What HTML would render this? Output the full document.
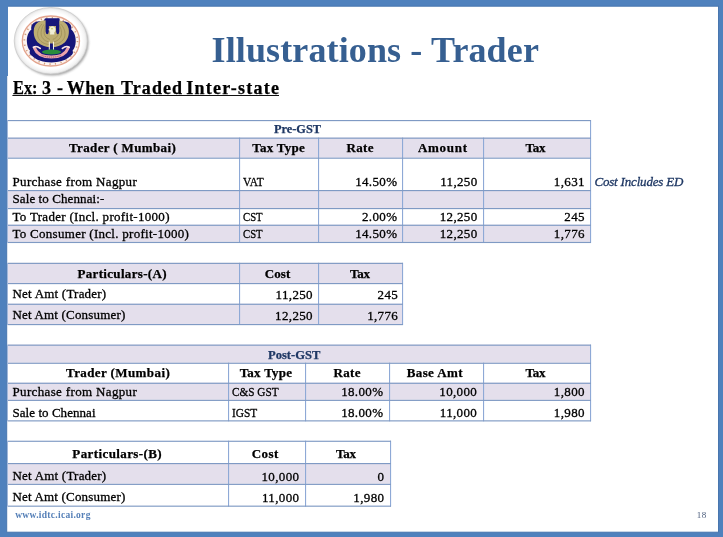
<!DOCTYPE html><html><head><meta charset='utf-8'><title>Illustrations - Trader</title><style>
html,body{margin:0;padding:0}body{width:723px;height:537px;background:#4f81bd;position:relative;overflow:hidden;font-family:'Liberation Serif', serif}
#s{position:absolute;left:8px;top:7px;width:710px;height:525px;background:#fff}
.r{position:absolute}.t{position:absolute;white-space:pre;line-height:20px;height:20px}
.b{font-weight:700}.k{-webkit-text-stroke:0.25px currentColor}.i{font-style:italic}.n{-webkit-text-stroke:0.3px currentColor}
</style></head><body><svg class='r' style='left:0;top:0' width='723' height='537'><rect x='6.7' y='6.2' width='711.8' height='526' fill='#fff' stroke='#4876ae' stroke-width='1'/><rect x='0' y='0' width='8' height='76' fill='#4f81bd'/></svg>
<svg class='r' style='left:0;top:0' width='723' height='537'>
<rect x='8' y='137.60' width='582' height='20.00' fill='#e4dfec'/>
<rect x='8' y='190.00' width='582' height='18.00' fill='#e4dfec'/>
<rect x='8' y='224.70' width='582' height='17.20' fill='#e4dfec'/>
<rect x='8' y='262.80' width='394' height='20.20' fill='#e4dfec'/>
<rect x='8' y='303.70' width='394' height='20.30' fill='#e4dfec'/>
<rect x='8' y='344.60' width='582' height='18.10' fill='#e4dfec'/>
<rect x='8' y='382.70' width='582' height='17.10' fill='#e4dfec'/>
<rect x='8' y='463.00' width='382' height='20.80' fill='#e4dfec'/>
<rect x='12.4' y='95.00' width='266.6' height='1.00' fill='#111'/>
<rect x='7' y='120.00' width='1' height='122.90' fill='#9fb7dc'/>
<rect x='239' y='137.60' width='1.1' height='105.30' fill='#8ea9d6'/>
<rect x='318' y='137.60' width='1.1' height='105.30' fill='#8ea9d6'/>
<rect x='402' y='137.60' width='1.1' height='105.30' fill='#8ea9d6'/>
<rect x='483' y='137.60' width='1.1' height='105.30' fill='#8ea9d6'/>
<rect x='590' y='120.00' width='1.1' height='122.90' fill='#8ea9d6'/>
<rect x='7' y='262.80' width='1' height='62.20' fill='#9fb7dc'/>
<rect x='239' y='262.80' width='1.1' height='62.20' fill='#8ea9d6'/>
<rect x='318' y='262.80' width='1.1' height='62.20' fill='#8ea9d6'/>
<rect x='402' y='262.80' width='1.1' height='62.20' fill='#8ea9d6'/>
<rect x='7' y='344.60' width='1' height='76.70' fill='#9fb7dc'/>
<rect x='228' y='362.70' width='1.1' height='58.60' fill='#8ea9d6'/>
<rect x='305' y='362.70' width='1.1' height='58.60' fill='#8ea9d6'/>
<rect x='389' y='362.70' width='1.1' height='58.60' fill='#8ea9d6'/>
<rect x='483' y='362.70' width='1.1' height='58.60' fill='#8ea9d6'/>
<rect x='590' y='344.60' width='1.1' height='76.70' fill='#8ea9d6'/>
<rect x='7' y='440.70' width='1' height='65.90' fill='#9fb7dc'/>
<rect x='228' y='440.70' width='1.1' height='65.90' fill='#8ea9d6'/>
<rect x='305' y='440.70' width='1.1' height='65.90' fill='#8ea9d6'/>
<rect x='390' y='440.70' width='1.1' height='65.90' fill='#8ea9d6'/>
<rect x='8' y='120.00' width='583' height='1.15' fill='#7f9ac4'/>
<rect x='8' y='137.60' width='583' height='1.15' fill='#7f9ac4'/>
<rect x='8' y='157.60' width='583' height='1.15' fill='#7f9ac4'/>
<rect x='8' y='190.00' width='583' height='1.15' fill='#7f9ac4'/>
<rect x='8' y='208.00' width='583' height='1.15' fill='#7f9ac4'/>
<rect x='8' y='224.70' width='583' height='1.15' fill='#7f9ac4'/>
<rect x='8' y='241.90' width='583' height='1.15' fill='#7f9ac4'/>
<rect x='8' y='262.80' width='395' height='1.15' fill='#7f9ac4'/>
<rect x='8' y='283.00' width='395' height='1.15' fill='#7f9ac4'/>
<rect x='8' y='303.70' width='395' height='1.15' fill='#7f9ac4'/>
<rect x='8' y='324.00' width='395' height='1.15' fill='#7f9ac4'/>
<rect x='8' y='344.60' width='583' height='1.15' fill='#7f9ac4'/>
<rect x='8' y='362.70' width='583' height='1.15' fill='#7f9ac4'/>
<rect x='8' y='382.70' width='583' height='1.15' fill='#7f9ac4'/>
<rect x='8' y='399.80' width='583' height='1.15' fill='#7f9ac4'/>
<rect x='8' y='420.30' width='583' height='1.15' fill='#7f9ac4'/>
<rect x='8' y='440.70' width='383' height='1.15' fill='#7f9ac4'/>
<rect x='8' y='463.00' width='383' height='1.15' fill='#7f9ac4'/>
<rect x='8' y='483.80' width='383' height='1.15' fill='#7f9ac4'/>
<rect x='8' y='505.60' width='383' height='1.15' fill='#7f9ac4'/>
</svg>
<svg class="r" style="left:0;top:0" width="110" height="90" viewBox="0 0 110 90">
<defs>
<filter id="sh" x="-20%" y="-20%" width="150%" height="150%"><feGaussianBlur stdDeviation="1.2"/></filter>
<filter id="bl" x="-10%" y="-10%" width="120%" height="120%"><feGaussianBlur stdDeviation="0.5"/></filter>
<radialGradient id="og" cx="0.5" cy="0.5" r="0.5"><stop offset="0.84" stop-color="#ffffff"/><stop offset="0.94" stop-color="#f3f3f3"/><stop offset="1" stop-color="#dcdcdc"/></radialGradient>
</defs>
<ellipse cx="52.2" cy="42.4" rx="36.4" ry="33.1" fill="#6a6a6a" opacity="0.6" filter="url(#sh)"/>
<ellipse cx="50.8" cy="40.8" rx="36.6" ry="33.3" fill="url(#og)" stroke="#c9c9c9" stroke-width="0.7"/>
<g filter="url(#bl)">
<ellipse cx="50.9" cy="41" rx="28.6" ry="25" fill="#fdf3ef" stroke="#e3a48e" stroke-width="1.3"/>
<ellipse cx="50.9" cy="41" rx="26.6" ry="23.2" fill="none" stroke="#c98f68" stroke-width="1.7" stroke-dasharray="1.2 4.4" opacity="0.85"/>
<path fill="#15157a" d="M45 18.5 L59.5 18.5 L59.7 22 C62.5 20.8 67.5 21.2 70 24 C71.6 26 71.6 28.4 71.2 29.6 C74.4 32 76 37 75.7 42 C75.4 46 74.4 48.8 72.6 50.6 C73.6 52.8 72.6 55.2 70.4 56 C66.4 60.4 58.8 62.4 51.3 62.4 C43.8 62.4 36.2 60.4 32.2 56 C30 55.2 29 52.8 30 50.6 C28.2 48.8 27.2 46 26.9 42 C26.6 37 28.2 32 31.4 29.6 C31 28.4 31 26 32.6 24 C35.1 21.2 40.1 20.8 42.9 22 Z"/>
<!-- wings -->
<path fill="#bdad72" d="M51.3 47.2 C47 47.4 41.5 45.6 37.6 42.2 C34.4 39 33.1 33.6 34 28.6 C34.8 24.6 37.8 21.5 41.8 20.7 L45.6 20.2 L57 20.2 L60.8 20.7 C64.8 21.5 67.8 24.6 68.6 28.6 C69.5 33.6 68.2 39 65 42.2 C61.1 45.6 55.6 47.4 51.3 47.2 Z"/>
<g fill="none" stroke="#8c7c48" stroke-width="0.7" opacity="0.7">
<path d="M49.500 44.600 C44.600 44.400 39.600 41.600 38 37 C36.800 32.600 38.400 27.600 42 24"/>
<path d="M49.600 42 C45.600 41.600 42 38.800 41.200 35 C40.600 31.400 41.800 27.400 44 24.400"/>
<path d="M49.800 39.400 C47 38.600 44.600 36.400 44.200 33.400 C44 30.600 44.400 27.600 45.200 25.400"/>
<path d="M53.100 44.600 C58 44.400 63 41.600 64.600 37 C65.800 32.600 64.200 27.600 60.600 24"/>
<path d="M53 42 C57 41.600 60.600 38.800 61.400 35 C62 31.400 60.800 27.400 58.600 24.400"/>
<path d="M52.800 39.400 C55.600 38.600 58 36.400 58.400 33.400 C58.600 30.600 58.200 27.600 57.400 25.400"/>
</g>
<!-- navy tab with prongs -->
<path fill="#15157a" d="M45.600 18.500 H59.200 L59.300 31.600 Q59.100 34.200 57.700 34.200 Q56.300 34.200 56.100 31.600 L56 26 H48.900 L48.800 31.600 Q48.600 34.200 47.200 34.200 Q45.800 34.200 45.600 31.600 Z"/>
<!-- head -->
<path fill="#efedd6" d="M48.300 30 L49.600 28.400 C49.800 27 51 26.200 52.400 26.200 C54.200 26.200 55.500 27.600 55.500 29.400 C55.500 30.800 54.900 31.800 54.200 32.400 L54.400 34.600 L50 34.600 L50.200 32 C49.800 31.600 49.600 31 49.700 30.500 Z"/>
<circle cx="52" cy="28.800" r="0.800" fill="#b9c940"/>
<!-- legs -->
<path fill="#15157a" d="M50 43.400 L52.800 43.400 L53 49.800 L49.800 49.800 Z"/>
<path fill="none" stroke="#f4f1e4" stroke-width="1" d="M49.300 41.600 L49.300 49.800 M53.500 41.600 L53.500 49.800"/>
<ellipse cx="51.500" cy="51.900" rx="9.500" ry="2.500" fill="#2c8c3c"/>
<path fill="none" stroke="#eca3ab" stroke-width="3.100" stroke-linecap="round" d="M34.600 48.200 C37 54.600 44 57 51.300 57 C58.600 57 65.600 54.600 68 48.200"/>
<path fill="none" stroke="#fde9e6" stroke-width="1.700" stroke-linecap="round" d="M33.400 47.300 C35 46.200 38 46.600 40.200 48.400 M69.200 47.300 C67.600 46.200 64.600 46.600 62.400 48.400"/>
<path fill="none" stroke="#a8586a" stroke-width="0.900" stroke-dasharray="1.100 0.800" d="M41.600 55.400 C44.600 56.600 47.800 57.100 51.300 57.100 C54.800 57.100 58 56.600 61 55.400"/>
</g>
</svg>

<div class='t b' style='left:211.50px;top:27.00px;font-size:36px;line-height:47px;height:47px;letter-spacing:0.128px;word-spacing:0px;color:#365f91;'>Illustrations - Trader</div>
<div class='t b k' style='left:12.50px;top:77.00px;font-size:18px;line-height:23px;height:23px;letter-spacing:0.000px;word-spacing:0px;color:#000;transform:scaleX(0.9074);transform-origin:0 0;'>Ex:</div>
<div class='t b k' style='left:42.00px;top:77.00px;font-size:18px;line-height:23px;height:23px;letter-spacing:0.000px;word-spacing:0px;color:#000;'>3</div>
<div class='t b k' style='left:57.10px;top:77.00px;font-size:18px;line-height:23px;height:23px;letter-spacing:0.000px;word-spacing:0px;color:#000;'>-</div>
<div class='t b k' style='left:66.80px;top:77.00px;font-size:18px;line-height:23px;height:23px;letter-spacing:0.530px;word-spacing:0px;color:#000;'>When</div>
<div class='t b k' style='left:121.00px;top:77.00px;font-size:18px;line-height:23px;height:23px;letter-spacing:1.086px;word-spacing:0px;color:#000;'>Traded</div>
<div class='t b k' style='left:186.30px;top:77.00px;font-size:18px;line-height:23px;height:23px;letter-spacing:1.230px;word-spacing:0px;color:#000;'>Inter-state</div>
<div class='t b k' style='left:274.00px;top:119.00px;font-size:13px;line-height:20px;height:20px;letter-spacing:0.000px;word-spacing:0px;color:#1f3864;transform:scaleX(0.9478);transform-origin:0 0;'>Pre-GST</div>
<div class='t b k' style='left:69.00px;top:138.00px;font-size:13px;line-height:20px;height:20px;letter-spacing:0.362px;word-spacing:0px;color:#000;'>Trader ( Mumbai)</div>
<div class='t b k' style='left:252.25px;top:138.00px;font-size:13px;line-height:20px;height:20px;letter-spacing:0.252px;word-spacing:0px;color:#000;'>Tax Type</div>
<div class='t b k' style='left:346.41px;top:138.00px;font-size:13px;line-height:20px;height:20px;letter-spacing:0.400px;word-spacing:0px;color:#000;'>Rate</div>
<div class='t b k' style='left:418.00px;top:138.00px;font-size:13px;line-height:20px;height:20px;letter-spacing:0.699px;word-spacing:0px;color:#000;'>Amount</div>
<div class='t b k' style='left:525.50px;top:138.00px;font-size:13px;line-height:20px;height:20px;letter-spacing:-0.239px;word-spacing:0px;color:#000;'>Tax</div>
<div class='t n' style='left:12.50px;top:172.00px;font-size:13px;line-height:20px;height:20px;letter-spacing:0.348px;word-spacing:0px;color:#000;'>Purchase from Nagpur</div>
<div class='t n' style='left:243.00px;top:172.00px;font-size:13px;line-height:20px;height:20px;letter-spacing:0.000px;word-spacing:0px;color:#000;transform:scaleX(0.8729);transform-origin:0 0;'>VAT</div>
<div class='t n' style='left:355.17px;top:172.00px;font-size:13px;line-height:20px;height:20px;letter-spacing:0.350px;word-spacing:0px;color:#000;'>14.50%</div>
<div class='t n' style='left:440.18px;top:172.00px;font-size:13px;line-height:20px;height:20px;letter-spacing:0.350px;word-spacing:0px;color:#000;'>11,250</div>
<div class='t n' style='left:553.85px;top:172.00px;font-size:13px;line-height:20px;height:20px;letter-spacing:0.350px;word-spacing:0px;color:#000;'>1,631</div>
<div class='t n' style='left:12.50px;top:189.00px;font-size:13px;line-height:20px;height:20px;letter-spacing:0.096px;word-spacing:0px;color:#000;'>Sale to Chennai:-</div>
<div class='t n' style='left:12.50px;top:207.00px;font-size:13px;line-height:20px;height:20px;letter-spacing:0.300px;word-spacing:0px;color:#000;'>To Trader (Incl. profit-1000)</div>
<div class='t n' style='left:243.00px;top:207.00px;font-size:13px;line-height:20px;height:20px;letter-spacing:0.000px;word-spacing:0px;color:#000;transform:scaleX(0.8221);transform-origin:0 0;'>CST</div>
<div class='t n' style='left:362.02px;top:207.00px;font-size:13px;line-height:20px;height:20px;letter-spacing:0.350px;word-spacing:0px;color:#000;'>2.00%</div>
<div class='t n' style='left:439.70px;top:207.00px;font-size:13px;line-height:20px;height:20px;letter-spacing:0.350px;word-spacing:0px;color:#000;'>12,250</div>
<div class='t n' style='left:564.30px;top:207.00px;font-size:13px;line-height:20px;height:20px;letter-spacing:0.350px;word-spacing:0px;color:#000;'>245</div>
<div class='t n' style='left:12.50px;top:224.00px;font-size:13px;line-height:20px;height:20px;letter-spacing:0.278px;word-spacing:0px;color:#000;'>To Consumer (Incl. profit-1000)</div>
<div class='t n' style='left:243.00px;top:224.00px;font-size:13px;line-height:20px;height:20px;letter-spacing:0.000px;word-spacing:0px;color:#000;transform:scaleX(0.8221);transform-origin:0 0;'>CST</div>
<div class='t n' style='left:355.17px;top:224.00px;font-size:13px;line-height:20px;height:20px;letter-spacing:0.350px;word-spacing:0px;color:#000;'>14.50%</div>
<div class='t n' style='left:439.70px;top:224.00px;font-size:13px;line-height:20px;height:20px;letter-spacing:0.350px;word-spacing:0px;color:#000;'>12,250</div>
<div class='t n' style='left:553.85px;top:224.00px;font-size:13px;line-height:20px;height:20px;letter-spacing:0.350px;word-spacing:0px;color:#000;'>1,776</div>
<div class='t n i' style='left:594.40px;top:172.00px;font-size:13px;line-height:20px;height:20px;letter-spacing:-0.181px;word-spacing:0px;color:#1f3864;'>Cost Includes ED</div>
<div class='t b k' style='left:77.50px;top:264.00px;font-size:13px;line-height:20px;height:20px;letter-spacing:0.324px;word-spacing:0px;color:#000;'>Particulars-(A)</div>
<div class='t b k' style='left:264.75px;top:264.00px;font-size:13px;line-height:20px;height:20px;letter-spacing:0.075px;word-spacing:0px;color:#000;'>Cost</div>
<div class='t b k' style='left:350.00px;top:264.00px;font-size:13px;line-height:20px;height:20px;letter-spacing:-0.239px;word-spacing:0px;color:#000;'>Tax</div>
<div class='t n' style='left:12.50px;top:284.00px;font-size:13px;line-height:20px;height:20px;letter-spacing:0.212px;word-spacing:0px;color:#000;'>Net Amt (Trader)</div>
<div class='t n' style='left:275.58px;top:285.00px;font-size:13px;line-height:20px;height:20px;letter-spacing:0.350px;word-spacing:0px;color:#000;'>11,250</div>
<div class='t n' style='left:377.60px;top:285.00px;font-size:13px;line-height:20px;height:20px;letter-spacing:0.350px;word-spacing:0px;color:#000;'>245</div>
<div class='t n' style='left:12.50px;top:305.00px;font-size:13px;line-height:20px;height:20px;letter-spacing:0.178px;word-spacing:0px;color:#000;'>Net Amt (Consumer)</div>
<div class='t n' style='left:275.10px;top:306.00px;font-size:13px;line-height:20px;height:20px;letter-spacing:0.350px;word-spacing:0px;color:#000;'>12,250</div>
<div class='t n' style='left:367.15px;top:306.00px;font-size:13px;line-height:20px;height:20px;letter-spacing:0.350px;word-spacing:0px;color:#000;'>1,776</div>
<div class='t b k' style='left:268.45px;top:345.00px;font-size:13px;line-height:20px;height:20px;letter-spacing:0.000px;word-spacing:0px;color:#1f3864;transform:scaleX(0.9655);transform-origin:0 0;'>Post-GST</div>
<div class='t b k' style='left:66.04px;top:363.00px;font-size:13px;line-height:20px;height:20px;letter-spacing:0.400px;word-spacing:0px;color:#000;'>Trader (Mumbai)</div>
<div class='t b k' style='left:239.65px;top:363.00px;font-size:13px;line-height:20px;height:20px;letter-spacing:0.252px;word-spacing:0px;color:#000;'>Tax Type</div>
<div class='t b k' style='left:333.41px;top:363.00px;font-size:13px;line-height:20px;height:20px;letter-spacing:0.400px;word-spacing:0px;color:#000;'>Rate</div>
<div class='t b k' style='left:406.70px;top:363.00px;font-size:13px;line-height:20px;height:20px;letter-spacing:0.400px;word-spacing:0px;color:#000;'>Base Amt</div>
<div class='t b k' style='left:525.50px;top:363.00px;font-size:13px;line-height:20px;height:20px;letter-spacing:-0.239px;word-spacing:0px;color:#000;'>Tax</div>
<div class='t n' style='left:12.50px;top:382.00px;font-size:13px;line-height:20px;height:20px;letter-spacing:0.348px;word-spacing:0px;color:#000;'>Purchase from Nagpur</div>
<div class='t n' style='left:232.00px;top:382.00px;font-size:13px;line-height:20px;height:20px;letter-spacing:0.000px;word-spacing:0px;color:#000;transform:scaleX(0.8658);transform-origin:0 0;'>C&amp;S GST</div>
<div class='t n' style='left:341.17px;top:382.00px;font-size:13px;line-height:20px;height:20px;letter-spacing:0.350px;word-spacing:0px;color:#000;'>18.00%</div>
<div class='t n' style='left:439.30px;top:382.00px;font-size:13px;line-height:20px;height:20px;letter-spacing:0.350px;word-spacing:0px;color:#000;'>10,000</div>
<div class='t n' style='left:553.85px;top:382.00px;font-size:13px;line-height:20px;height:20px;letter-spacing:0.350px;word-spacing:0px;color:#000;'>1,800</div>
<div class='t n' style='left:12.50px;top:403.00px;font-size:13px;line-height:20px;height:20px;letter-spacing:0.049px;word-spacing:0px;color:#000;'>Sale to Chennai</div>
<div class='t n' style='left:232.00px;top:403.00px;font-size:13px;line-height:20px;height:20px;letter-spacing:0.000px;word-spacing:0px;color:#000;transform:scaleX(0.8758);transform-origin:0 0;'>IGST</div>
<div class='t n' style='left:341.17px;top:403.00px;font-size:13px;line-height:20px;height:20px;letter-spacing:0.350px;word-spacing:0px;color:#000;'>18.00%</div>
<div class='t n' style='left:439.78px;top:403.00px;font-size:13px;line-height:20px;height:20px;letter-spacing:0.350px;word-spacing:0px;color:#000;'>11,000</div>
<div class='t n' style='left:553.85px;top:403.00px;font-size:13px;line-height:20px;height:20px;letter-spacing:0.350px;word-spacing:0px;color:#000;'>1,980</div>
<div class='t b k' style='left:72.32px;top:444.00px;font-size:13px;line-height:20px;height:20px;letter-spacing:0.400px;word-spacing:0px;color:#000;'>Particulars-(B)</div>
<div class='t b k' style='left:251.76px;top:444.00px;font-size:13px;line-height:20px;height:20px;letter-spacing:0.400px;word-spacing:0px;color:#000;'>Cost</div>
<div class='t b k' style='left:336.00px;top:444.00px;font-size:13px;line-height:20px;height:20px;letter-spacing:-0.239px;word-spacing:0px;color:#000;'>Tax</div>
<div class='t n' style='left:12.50px;top:466.00px;font-size:13px;line-height:20px;height:20px;letter-spacing:0.212px;word-spacing:0px;color:#000;'>Net Amt (Trader)</div>
<div class='t n' style='left:261.50px;top:467.00px;font-size:13px;line-height:20px;height:20px;letter-spacing:0.350px;word-spacing:0px;color:#000;'>10,000</div>
<div class='t n' style='left:377.50px;top:467.00px;font-size:13px;line-height:20px;height:20px;letter-spacing:0.350px;word-spacing:0px;color:#000;'>0</div>
<div class='t n' style='left:12.50px;top:487.00px;font-size:13px;line-height:20px;height:20px;letter-spacing:0.178px;word-spacing:0px;color:#000;'>Net Amt (Consumer)</div>
<div class='t n' style='left:261.98px;top:488.00px;font-size:13px;line-height:20px;height:20px;letter-spacing:0.350px;word-spacing:0px;color:#000;'>11,000</div>
<div class='t n' style='left:353.35px;top:488.00px;font-size:13px;line-height:20px;height:20px;letter-spacing:0.350px;word-spacing:0px;color:#000;'>1,980</div>
<div class='t b' style='left:15.20px;top:505.00px;font-size:9.5px;line-height:20px;height:20px;letter-spacing:0.297px;word-spacing:0px;color:#5680b8;'>www.idtc.icai.org</div>
<div class='t' style='left:696.70px;top:505.00px;font-size:9px;line-height:20px;height:20px;letter-spacing:0.500px;word-spacing:0px;color:#4a5c7c;'>18</div>
</body></html>
